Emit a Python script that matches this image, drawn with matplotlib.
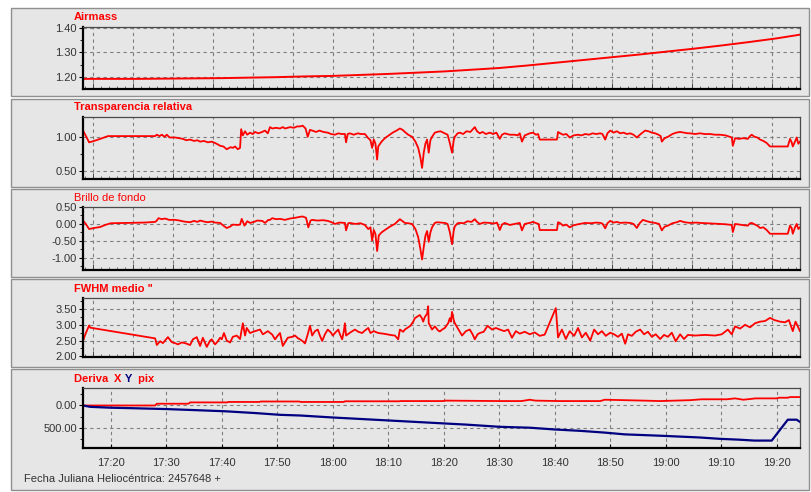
import matplotlib
matplotlib.use("Agg")
import matplotlib.pyplot as plt
import matplotlib.ticker as mticker
from matplotlib.patches import Rectangle

plt.rcParams['font.family'] = ['Liberation Sans', 'DejaVu Sans']

# ---------------------------------------------------------------------------
# Data: times are minutes after 17:00 (local clock), values per series
# ---------------------------------------------------------------------------
t_airmass = [15.0, 20.0, 25.0, 30.0, 35.0, 40.0, 45.0, 50.0, 55.0, 60.0, 65.0,
             70.0, 75.0, 80.0, 85.0, 90.0, 95.0, 100.0, 105.0, 110.0, 115.0,
             120.0, 125.0, 130.0, 135.0, 140.0, 144.2]
airmass = [1.193, 1.193, 1.193, 1.194, 1.195, 1.196, 1.198, 1.200, 1.203, 1.205,
           1.209, 1.213, 1.218, 1.223, 1.230, 1.237, 1.247, 1.258, 1.269, 1.280,
           1.291, 1.303, 1.315, 1.328, 1.342, 1.357, 1.372]

t_transp = [15.0, 15.6, 16.1, 17.0, 18.1, 19.5, 28.0, 28.3, 28.8, 29.2, 29.7, 30.1,
            30.6, 31.6, 32.3, 33.0, 33.6, 34.3, 35.0, 35.6, 36.1, 36.8, 37.5, 38.2,
            38.8, 39.3, 39.7, 40.3, 40.9, 41.6, 42.0, 42.4, 42.9, 43.3, 43.5, 43.8,
            44.2, 44.6, 45.1, 45.6, 46.0, 46.6, 47.3, 47.8, 48.3, 48.7, 49.1, 49.8,
            50.5, 51.0, 51.4, 51.9, 52.3, 53.0, 53.6, 54.1, 54.6, 55.1, 55.5, 55.9,
            56.3, 57.0, 57.6, 58.3, 59.1, 59.7, 60.4, 61.0, 61.6, 62.2, 62.4, 62.7,
            63.1, 63.8, 64.5, 65.1, 65.8, 66.4, 66.8, 67.1, 67.4, 67.7, 68.0, 68.2,
            68.8, 69.4, 70.1, 70.8, 71.5, 72.1, 72.6, 73.0, 73.6, 74.3, 74.9, 75.4,
            75.8, 76.1, 76.4, 76.7, 77.0, 77.3, 77.6, 77.9, 78.4, 78.8, 79.4, 80.2,
            80.7, 81.1, 81.5, 81.8, 82.0, 82.5, 82.9, 83.5, 84.1, 84.8, 85.6, 86.0,
            86.5, 87.0, 87.6, 88.3, 88.9, 89.5, 90.1, 90.5, 91.0, 91.9, 92.8, 93.3,
            93.7, 94.1, 94.6, 95.5, 96.1, 96.6, 97.0, 97.3, 100.4, 100.6, 101.0,
            101.5, 102.1, 102.7, 103.4, 104.2, 104.8, 105.5, 106.2, 106.8, 107.5,
            108.2, 108.6, 109.1, 109.5, 110.0, 110.6, 111.2, 111.8, 112.4, 113.0,
            113.6, 114.2, 114.8, 115.5, 116.3, 116.9, 117.5, 118.1, 118.7, 119.1,
            119.3, 119.8, 120.4, 121.2, 121.9, 122.6, 123.3, 124.0, 124.4, 125.3,
            126.2, 127.0, 128.0, 128.9, 129.8, 130.8, 131.9, 132.1, 132.5, 133.2,
            134.0, 134.8, 135.2, 135.5, 136.0, 136.5, 137.0, 137.6, 138.2, 138.8,
            142.0, 142.4, 142.7, 142.9, 143.3, 143.6, 143.9, 144.2]
transp = [1.09, 1.00, 0.92, 0.94, 0.97, 1.01, 1.01, 1.03, 1.01, 1.03, 1.00, 1.03,
          0.99, 0.99, 0.98, 0.97, 0.95, 0.96, 0.94, 0.95, 0.93, 0.94, 0.92, 0.93,
          0.91, 0.89, 0.87, 0.86, 0.82, 0.85, 0.84, 0.86, 0.82, 0.84, 1.11, 1.02,
          1.08, 1.03, 1.06, 1.04, 1.07, 1.05, 1.07, 1.09, 1.05, 1.14, 1.12, 1.13,
          1.12, 1.14, 1.12, 1.13, 1.14, 1.13, 1.15, 1.15, 1.16, 1.12, 1.00, 1.10,
          1.09, 1.07, 1.09, 1.07, 1.06, 1.04, 1.03, 1.05, 1.04, 1.04, 0.92, 1.04,
          1.05, 1.03, 1.05, 1.04, 1.04, 0.98, 0.95, 0.84, 0.96, 0.90, 0.67, 0.86,
          0.93, 0.98, 1.02, 1.06, 1.09, 1.12, 1.10, 1.07, 1.03, 1.00, 0.93, 0.84,
          0.70, 0.55, 0.77, 0.90, 0.96, 0.77, 0.95, 1.00, 1.06, 1.07, 1.08, 1.05,
          1.03, 0.91, 0.77, 0.95, 1.00, 1.05, 1.06, 1.04, 1.08, 1.07, 1.14, 1.08,
          1.05, 1.07, 1.04, 1.06, 1.04, 1.06, 0.97, 1.03, 1.05, 1.03, 1.03, 1.02,
          1.05, 0.93, 1.02, 1.05, 1.06, 1.03, 1.04, 0.96, 0.96, 1.07, 1.05,
          1.03, 1.04, 0.99, 1.02, 1.03, 1.02, 1.04, 1.03, 1.05, 1.04,
          1.05, 1.04, 0.96, 1.05, 1.09, 1.06, 1.08, 1.05, 1.06, 1.04,
          1.05, 1.03, 0.99, 1.04, 1.09, 1.08, 1.06, 1.05, 1.03, 1.01,
          0.93, 0.98, 1.00, 1.04, 1.06, 1.07, 1.06, 1.05, 1.05, 1.04,
          1.05, 1.04, 1.04, 1.03, 1.03, 1.02, 0.99, 0.87, 0.98, 0.97,
          0.98, 0.97, 1.01, 1.03, 1.00, 0.99, 0.96, 0.94, 0.91, 0.86,
          0.86, 0.97, 0.92, 0.86, 0.93, 0.99, 0.90, 0.93]

t_sky = [15.0, 15.5, 16.1, 17.0, 18.1, 19.0, 20.0, 23.0, 26.0, 28.0, 28.3, 28.6,
         29.2, 29.8, 30.5, 31.6, 32.4, 33.2, 34.3, 35.0, 35.6, 36.1, 36.8, 37.5,
         38.2, 38.8, 39.7, 40.3, 40.9, 41.5, 42.0, 42.9, 43.3, 43.6, 44.1, 44.6,
         45.1, 45.8, 46.4, 47.3, 47.8, 48.4, 48.7, 49.1, 49.8, 50.5, 51.4, 52.3,
         53.2, 54.1, 54.6, 55.2, 55.6, 56.0, 56.3, 57.2, 58.3, 59.1, 59.8, 60.4,
         61.2, 62.2, 62.4, 62.8, 63.1, 64.0, 65.0, 65.8, 66.4, 66.8, 67.1, 67.4,
         67.7, 68.0, 68.3, 68.8, 69.4, 70.3, 71.2, 72.1, 72.6, 73.0, 73.6, 74.3,
         74.9, 75.4, 75.8, 76.1, 76.4, 76.7, 77.0, 77.3, 77.6, 77.9, 78.4, 78.8,
         79.5, 80.2, 80.7, 81.1, 81.5, 81.8, 82.0, 82.5, 82.9, 83.6, 84.3, 85.0,
         85.6, 86.0, 86.5, 87.2, 88.3, 89.0, 89.6, 90.1, 90.5, 91.0, 91.9, 92.8,
         93.7, 94.1, 94.6, 95.5, 96.1, 96.7, 97.1, 97.3, 100.4, 100.6, 101.0,
         101.5, 102.1, 102.7, 103.4, 104.2, 105.5, 106.5, 107.5, 108.2, 108.6,
         109.1, 109.5, 110.0, 110.6, 111.2, 111.8, 112.7, 113.6, 114.2, 114.8,
         115.3, 115.9, 116.6, 117.3, 118.1, 118.8, 119.3, 119.8, 120.4, 121.2,
         122.0, 122.6, 123.4, 124.4, 125.5, 126.2, 127.5, 128.8, 129.8, 130.8,
         131.9, 132.1, 132.5, 133.3, 134.2, 134.8, 135.2, 135.5, 136.1, 136.6,
         137.0, 137.6, 138.2, 138.8, 142.0, 142.4, 142.7, 142.9, 143.3, 143.6,
         143.9, 144.2]
sky = [0.10, 0.00, -0.15, -0.12, -0.09, -0.03, 0.02, 0.03, 0.04, 0.06, 0.10, 0.17,
       0.14, 0.16, 0.12, 0.12, 0.10, 0.07, 0.05, 0.09, 0.06, 0.10, 0.07, 0.05,
       0.07, 0.04, 0.03, -0.05, -0.12, -0.08, -0.02, -0.03, -0.02, 0.15, -0.05, 0.08,
       0.03, 0.06, 0.10, 0.09, 0.03, 0.12, 0.12, 0.17, 0.14, 0.15, 0.12, 0.16,
       0.18, 0.21, 0.22, 0.18, -0.10, 0.10, 0.12, 0.10, 0.11, 0.09, 0.05, 0.00,
       0.04, 0.03, -0.19, 0.02, 0.03, 0.00, 0.02, -0.03, -0.15, -0.10, -0.49, -0.18,
       -0.30, -0.80, -0.34, -0.25, -0.18, -0.08, 0.00, 0.14, 0.08, 0.03, 0.02, 0.00,
       -0.15, -0.39, -0.75, -1.05, -0.68, -0.35, -0.21, -0.53, -0.25, -0.10, 0.03, 0.05,
       0.04, 0.03, 0.00, -0.24, -0.60, -0.20, -0.07, 0.02, 0.03, 0.02, 0.08, 0.06,
       0.14, 0.06, 0.00, 0.04, 0.03, 0.01, 0.04, -0.18, -0.02, 0.03, -0.03, 0.00,
       0.03, -0.19, 0.00, 0.03, 0.06, 0.02, 0.00, -0.18, -0.18, 0.05, 0.02,
       -0.05, -0.02, -0.10, -0.04, -0.01, 0.03, 0.02, 0.04, 0.03, 0.01,
       -0.13, 0.02, 0.09, 0.04, 0.06, 0.03, 0.04, 0.03, 0.00, -0.12,
       0.02, 0.12, 0.08, 0.05, 0.03, 0.00, -0.19, -0.08, -0.05, 0.02,
       0.05, 0.09, 0.05, 0.03, 0.04, 0.03, 0.02, 0.01, 0.00, -0.01,
       -0.03, -0.24, 0.00, -0.02, -0.04, -0.05, 0.02, 0.03, -0.02, -0.06,
       -0.12, -0.10, -0.18, -0.29, -0.29, -0.05, -0.12, -0.29, -0.10, 0.00,
       -0.15, -0.10]

t_fwhm = [15.0, 15.4, 16.1, 16.3, 28.0, 28.3, 28.9, 29.4, 30.3, 31.0, 31.6, 32.1,
          32.8, 33.4, 34.3, 34.8, 35.5, 36.1, 36.6, 37.3, 37.9, 38.2, 38.8, 39.3,
          39.7, 40.0, 40.4, 40.9, 41.5, 42.0, 42.7, 43.3, 43.8, 44.2, 44.5, 45.1,
          46.0, 46.9, 47.4, 47.8, 48.3, 49.1, 49.6, 50.1, 50.5, 51.0, 51.6, 51.9,
          52.7, 53.2, 53.7, 54.1, 54.6, 55.0, 55.5, 55.9, 56.3, 56.8, 57.3, 57.7,
          58.1, 58.6, 59.1, 59.7, 60.0, 60.6, 61.0, 61.3, 61.7, 62.0, 62.2, 62.4,
          63.1, 64.0, 64.6, 65.3, 65.8, 66.4, 66.8, 67.4, 68.2, 69.1, 70.0, 70.7,
          71.2, 71.8, 72.1, 72.7, 73.0, 73.6, 74.0, 74.5, 74.8, 75.4, 75.7, 76.1,
          76.3, 76.6, 77.0, 77.2, 77.3, 77.9, 78.4, 79.0, 79.3, 79.8, 80.2, 80.8,
          81.1, 81.3, 81.5, 81.8, 82.0, 82.5, 83.3, 84.0, 84.7, 85.2, 85.6, 86.1,
          86.5, 87.2, 87.9, 88.7, 89.4, 90.1, 90.9, 91.6, 92.3, 93.0, 93.7, 94.6,
          95.5, 96.4, 97.3, 98.2, 100.2, 100.6, 101.3, 102.0, 102.7, 103.5, 104.2,
          104.9, 105.6, 106.4, 107.1, 107.8, 108.5, 109.2, 110.0, 110.7, 111.4,
          112.1, 112.7, 113.2, 113.9, 114.6, 115.4, 116.1, 116.8, 117.5, 118.2,
          119.0, 119.7, 120.4, 121.1, 121.8, 122.6, 123.3, 124.0, 125.3, 127.1,
          128.9, 130.1, 131.2, 131.9, 132.5, 133.4, 134.3, 135.2, 136.1, 137.0,
          137.9, 138.8, 139.6, 140.6, 141.5, 142.2, 142.9, 143.4, 144.2]
fwhm = [2.49, 2.69, 2.98, 2.91, 2.57, 2.36, 2.48, 2.42, 2.61, 2.45, 2.42, 2.38,
        2.44, 2.42, 2.36, 2.54, 2.61, 2.33, 2.59, 2.30, 2.50, 2.54, 2.38, 2.48,
        2.59, 2.54, 2.74, 2.50, 2.44, 2.62, 2.66, 2.55, 3.05, 2.66, 2.90, 2.74,
        2.80, 2.85, 2.70, 2.74, 2.80, 2.69, 2.54, 2.66, 2.74, 2.33, 2.50, 2.59,
        2.62, 2.66, 2.58, 2.54, 2.48, 2.41, 2.70, 2.97, 2.66, 2.80, 2.85, 2.65,
        2.49, 2.70, 2.85, 2.75, 2.66, 2.78, 2.85, 2.70, 2.54, 2.80, 3.05, 2.66,
        2.75, 2.85, 2.78, 2.74, 2.82, 2.90, 2.74, 2.80, 2.74, 2.72, 2.69, 2.67,
        2.66, 2.54, 2.85, 2.78, 2.85, 2.92, 2.97, 3.10, 3.21, 3.28, 3.31, 3.20,
        3.10, 3.25, 3.35, 3.59, 3.05, 2.85, 2.95, 2.82, 2.79, 2.86, 2.90, 3.05,
        3.21, 3.10, 3.41, 3.15, 3.05, 2.90, 2.66, 2.80, 2.85, 2.70, 2.54, 2.70,
        2.74, 2.78, 2.97, 2.85, 2.90, 2.85, 2.80, 2.85, 2.59, 2.80, 2.72, 2.78,
        2.70, 2.76, 2.65, 2.69, 3.53, 2.60, 2.85, 2.55, 2.80, 2.65, 2.90,
        2.60, 2.75, 2.50, 2.85, 2.70, 2.80, 2.65, 2.75, 2.70, 2.62,
        2.72, 2.40, 2.70, 2.65, 2.78, 2.85, 2.70, 2.78, 2.62, 2.70,
        2.55, 2.68, 2.62, 2.75, 2.48, 2.70, 2.55, 2.68, 2.66, 2.68,
        2.66, 2.70, 2.85, 2.70, 2.95, 2.88, 3.00, 2.92, 3.05, 3.10,
        3.12, 3.22, 3.15, 3.10, 3.08, 3.15, 2.80, 3.10, 2.80]

t_drift_x = [15.0, 28.0, 28.3, 34.0, 34.3, 41.0, 41.2, 46.8, 47.0, 54.0, 54.2,
             62.0, 62.2, 72.0, 72.2, 80.0, 80.2, 90.1, 94.0, 95.5, 96.5, 100.8,
             104.5, 108.2, 109.0, 116.0, 119.0, 124.4, 126.5, 131.0, 132.5, 134.0,
             136.2, 140.0, 140.4, 142.0, 142.4, 144.2]
drift_x = [0, 0, -40, -40, -70, -70, -80, -80, -90, -90, -80,
           -80, -95, -95, -100, -100, -110, -100, -100, -130, -110, -100,
           -100, -100, -130, -110, -100, -120, -140, -140, -160, -130,
           -160, -160, -175, -175, -190, -190]

t_drift_y = [15.0, 16.3, 20.0, 23.6, 29.9, 34.3, 40.6, 46.0, 50.5, 54.1, 60.0,
             66.0, 72.0, 78.0, 84.0, 90.1, 95.5, 100.0, 104.5, 109.0, 112.6,
             118.9, 126.1, 129.7, 133.3, 136.0, 139.1, 142.0, 143.6, 144.2]
drift_y = [0, 30, 50, 60, 80, 100, 130, 170, 210, 225, 270,
           310, 350, 390, 430, 480, 500, 540, 570, 610, 650,
           680, 720, 750, 770, 790, 790, 320, 320, 370]

# Time axis in minutes since midnight
BASE = 17 * 60
X_MIN, X_MAX = BASE + 15.0, BASE + 144.2

RED = '#ff0000'
NAVY = '#000080'
PANEL_BG = '#e6e6e6'
TXT = '#333333'

W, H = 811, 492
fig = plt.figure(figsize=(W / 100, H / 100), dpi=100, facecolor='white')


def fx(px):
    return px / W


def fy(py):
    return 1 - py / H


# Grey frames behind each strip (top, bottom in pixels)
frames = [(8, 96), (99, 187), (189, 277), (279, 367), (369, 490)]
for top, bot in frames:
    fig.patches.append(Rectangle((fx(11), fy(bot)), fx(809) - fx(11), fy(top) - fy(bot),
                                 transform=fig.transFigure, facecolor=PANEL_BG,
                                 edgecolor='#8f8f8f', linewidth=1.0, zorder=-5))

# Axes boxes (top, bottom in pixels)
boxes = [(27, 89), (117, 179), (207, 270), (298, 357), (388, 448)]
axes = []
for top, bot in boxes:
    ax = fig.add_axes([fx(83), fy(bot), fx(800) - fx(83), fy(top) - fy(bot)])
    ax.set_zorder(2)
    ax.set_facecolor(PANEL_BG)
    ax.set_xlim(X_MIN, X_MAX)
    for side in ('left', 'bottom'):
        ax.spines[side].set_color('black')
        ax.spines[side].set_linewidth(1.6)
    for side in ('top', 'right'):
        ax.spines[side].set_color('#4a4a4a')
        ax.spines[side].set_linewidth(0.9)
    ax.tick_params(axis='y', which='major', direction='out', length=3, width=0.8,
                   labelsize=8, labelcolor=TXT, color='black', pad=1.5)
    ax.tick_params(axis='y', which='minor', direction='out', length=2, width=0.6,
                   color='black')
    ax.yaxis.set_major_formatter(mticker.FormatStrFormatter('%.2f'))
    ax.grid(True, which='major', linestyle=(0, (3, 3)), color='#7f7f7f', linewidth=0.8)
    ax.set_axisbelow(True)
    axes.append(ax)

# Upper four strips: grid every 0.005 day, minor ticks every 0.001 day
for ax in axes[:4]:
    ax.xaxis.set_major_locator(mticker.MultipleLocator(7.2))
    ax.xaxis.set_minor_locator(mticker.MultipleLocator(1.44))
    ax.tick_params(axis='x', which='major', direction='in', length=4, width=0.7,
                   labelbottom=False, color='#444444')
    ax.tick_params(axis='x', which='minor', direction='in', length=2.5, width=0.55,
                   color='#444444')

# Bottom strip: clock labels every 10 minutes
axd = axes[4]
axd.xaxis.set_major_locator(mticker.MultipleLocator(10))
axd.xaxis.set_major_formatter(mticker.FuncFormatter(
    lambda v, p: f"{int(round(v)) // 60}:{int(round(v)) % 60:02d}"))
axd.tick_params(axis='x', which='major', direction='in', length=3, width=0.8,
                labelsize=8, labelcolor=TXT, pad=7)


def xs(ts):
    return [BASE + t for t in ts]


ax1, ax2, ax3, ax4, ax5 = axes

ax1.plot(xs(t_airmass), airmass, color=RED, lw=1.4)
ax1.set_ylim(1.152, 1.403)
ax1.yaxis.set_major_locator(mticker.FixedLocator([1.20, 1.30, 1.40]))
ax1.yaxis.set_minor_locator(mticker.FixedLocator([1.25, 1.35]))

ax2.plot(xs(t_transp), transp, color=RED, lw=1.3)
ax2.set_ylim(0.39, 1.286)
ax2.yaxis.set_major_locator(mticker.FixedLocator([0.50, 1.00]))
ax2.yaxis.set_minor_locator(mticker.FixedLocator([0.75]))

ax3.plot(xs(t_sky), sky, color=RED, lw=1.3)
ax3.set_ylim(-1.36, 0.50)
ax3.yaxis.set_major_locator(mticker.FixedLocator([-1.00, -0.50, 0.00, 0.50]))
ax3.yaxis.set_minor_locator(mticker.FixedLocator([-1.25, -0.75, -0.25, 0.25]))

ax4.plot(xs(t_fwhm), fwhm, color=RED, lw=1.3)
ax4.set_ylim(1.98, 3.85)
ax4.yaxis.set_major_locator(mticker.FixedLocator([2.00, 2.50, 3.00, 3.50]))
ax4.yaxis.set_minor_locator(mticker.FixedLocator([2.25, 2.75, 3.25, 3.75]))

ax5.plot(xs(t_drift_x), drift_x, color=RED, lw=1.3)
ax5.plot(xs(t_drift_y), drift_y, color=NAVY, lw=1.6)
ax5.set_ylim(957, -394)
ax5.yaxis.set_major_locator(mticker.FixedLocator([0, 500]))
ax5.yaxis.set_minor_locator(mticker.FixedLocator([-250, 250, 750]))

# Strip titles
title_kw = dict(fontsize=8, color=RED, va='center', ha='left')
fig.text(fx(74), fy(17.5), 'Airmass', fontweight='bold', **title_kw)
fig.text(fx(74), fy(107), 'Transparencia relativa', fontweight='bold', **title_kw)
fig.text(fx(74), fy(198), 'Brillo de fondo', **title_kw)
fig.text(fx(74), fy(289), 'FWHM medio "', fontweight='bold', **title_kw)
t0 = fig.text(fx(74), fy(378.5), 'Deriva  ', fontweight='bold', **title_kw)
# coloured axis letters chained after the title word
ann_x = ax5.annotate('X ', xy=(1, 0), xycoords=t0, va='bottom', ha='left',
                     fontsize=8, fontweight='bold', color=RED, annotation_clip=False)
ann_y = ax5.annotate('Y ', xy=(1, 0), xycoords=ann_x, va='bottom', ha='left',
                     fontsize=8, fontweight='bold', color=NAVY, annotation_clip=False)
ax5.annotate(' pix', xy=(1, 0), xycoords=ann_y, va='bottom', ha='left',
             fontsize=8, fontweight='bold', color=RED, annotation_clip=False)

fig.text(fx(24), fy(479), 'Fecha Juliana Heliocéntrica: 2457648 +', fontsize=8,
         color=TXT, va='center', ha='left')

fig.savefig('out.png', dpi=100, facecolor='white')
